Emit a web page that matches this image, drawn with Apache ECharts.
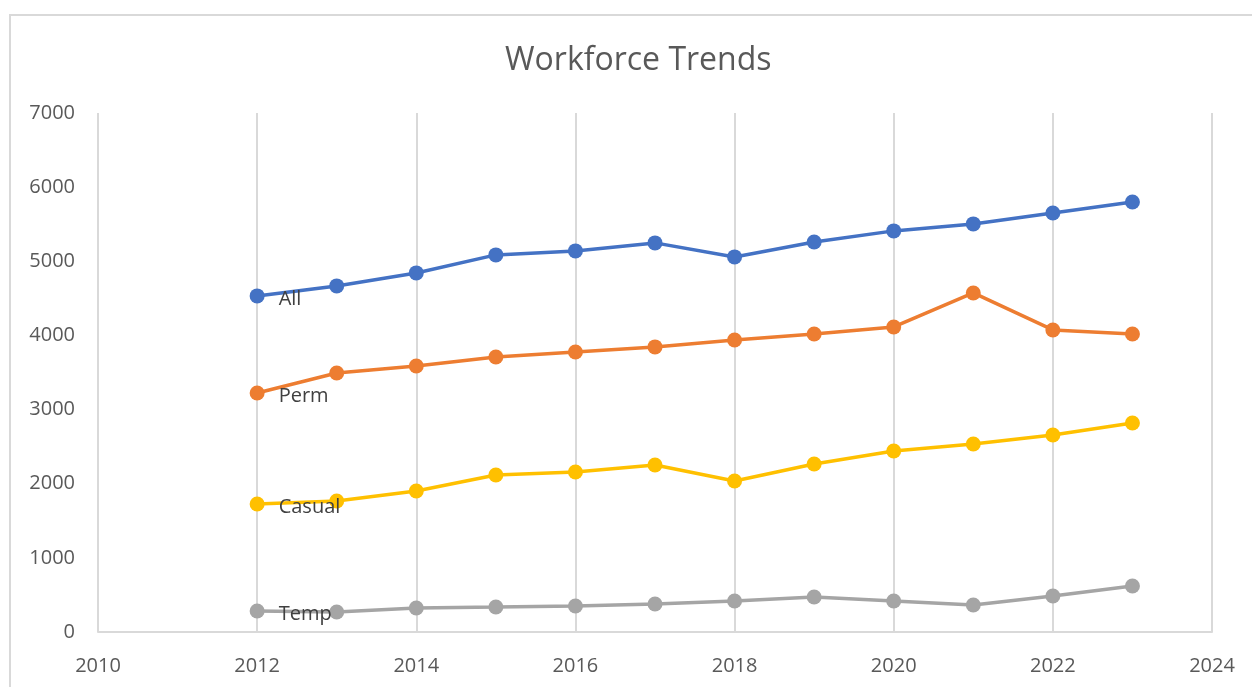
<!DOCTYPE html>
<html>
<head>
<meta charset="utf-8">
<script src="https://cdn.jsdelivr.net/npm/echarts@6/dist/echarts.min.js"></script>
<style>
  html, body { margin: 0; padding: 0; background: #fff; }
  #frame { position: absolute; left: 9px; top: 14px; width: 1260px; height: 700px; border: 2px solid #d9d9d9; box-sizing: border-box; }
  #chart { position: absolute; left: 0; top: 0; width: 1252px; height: 687px; }
</style>
</head>
<body>
<div id="frame"></div>
<div id="chart"></div>
<script>
// years on the x axis
const years = [2012, 2013, 2014, 2015, 2016, 2017, 2018, 2019, 2020, 2021, 2022, 2023]
const allStaff = [4533, 4668, 4843, 5086, 5140, 5248, 5059, 5261, 5410, 5504, 5652, 5800]
const permStaff = [3224, 3494, 3588, 3710, 3777, 3845, 3939, 4020, 4114, 4573, 4074, 4020]
const casualStaff = [1727, 1767, 1902, 2118, 2158, 2253, 2037, 2266, 2442, 2536, 2657, 2819]
const tempStaff = [283, 270, 324, 337, 351, 378, 418, 472, 418, 364, 486, 620]
const seriesNames = ['All', 'Perm', 'Casual', 'Temp']
const seriesColors = ['#4472c4', '#ed7d31', '#ffc000', '#a5a5a5']

const font = "'Open Sans', 'Liberation Sans', sans-serif"

const makeSeries = (name, values, color) => ({
  name: name,
  type: 'line',
  data: values.map((v, i) => {
    const pt = [years[i], v]
    if (i == 0) {
      return {
        value: pt,
        label: {
          show: true,
          position: 'right',
          distance: 14,
          offset: [0, 3],
          formatter: name,
          color: '#404040',
          fontSize: 20,
          fontFamily: font,
        },
      }
    }
    return pt
  }),
  symbol: 'circle',
  symbolSize: 15,
  lineStyle: { color: color, width: 3.5 },
  itemStyle: { color: color },
  z: 3,
})

const chart = echarts.init(document.getElementById('chart'))
chart.setOption({
  animation: false,
  title: {
    text: 'Workforce Trends',
    left: 500,
    top: 40,
    textStyle: { color: '#595959', fontSize: 32, fontWeight: 'normal', fontFamily: font },
  },
  grid: { left: 98, right: 40, top: 113, bottom: 55 },
  xAxis: {
    type: 'value',
    min: 2010,
    max: 2024,
    interval: 2,
    axisLine: { show: true, lineStyle: { color: '#d9d9d9', width: 2 } },
    axisTick: { show: false },
    axisLabel: { color: '#595959', fontSize: 20, fontFamily: font, margin: 24, formatter: (v) => String(v) },
    splitLine: { show: true, lineStyle: { color: '#d9d9d9', width: 2 } },
  },
  yAxis: {
    type: 'value',
    min: 0,
    max: 7000,
    interval: 1000,
    axisLine: { show: false },
    axisTick: { show: false },
    axisLabel: { color: '#595959', fontSize: 20, fontFamily: font, margin: 23, formatter: (v) => String(v) },
    splitLine: { show: false },
  },
  series: [
    makeSeries(seriesNames[0], allStaff, seriesColors[0]),
    makeSeries(seriesNames[1], permStaff, seriesColors[1]),
    makeSeries(seriesNames[2], casualStaff, seriesColors[2]),
    makeSeries(seriesNames[3], tempStaff, seriesColors[3]),
  ],
})
</script>
</body>
</html>
